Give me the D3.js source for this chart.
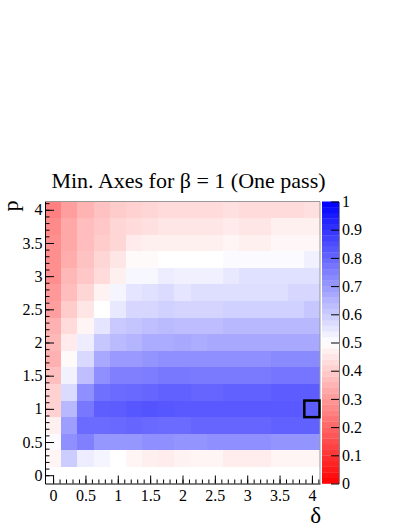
<!DOCTYPE html>
<html>
<head>
<meta charset="utf-8">
<script src="https://cdn.jsdelivr.net/npm/d3@7"></script>
<style>
  html, body { margin: 0; padding: 0; background: #fff; }
</style>
</head>
<body>
<svg id="chart" width="407" height="527"></svg>
<script>
// ---- Data ----
const deltaValues = [0, 0.25, 0.5, 0.75, 1, 1.25, 1.5, 1.75, 2, 2.25, 2.5, 2.75, 3, 3.25, 3.5, 3.75, 4];
const pValues = [4, 3.75, 3.5, 3.25, 3, 2.75, 2.5, 2.25, 2, 1.75, 1.5, 1.25, 1, 0.75, 0.5, 0.25];
// rows follow pValues (top to bottom), columns follow deltaValues
const row400 = [0.25,0.31,0.35,0.38,0.40,0.41,0.42,0.43,0.43,0.43,0.43,0.44,0.43,0.43,0.43,0.43,0.44];
const row375 = [0.27,0.33,0.37,0.39,0.42,0.43,0.44,0.45,0.45,0.45,0.45,0.46,0.45,0.45,0.47,0.47,0.47];
const row350 = [0.28,0.33,0.37,0.40,0.42,0.46,0.47,0.47,0.47,0.47,0.47,0.48,0.47,0.47,0.485,0.485,0.485];
const row325 = [0.28,0.34,0.38,0.42,0.45,0.49,0.49,0.50,0.50,0.50,0.50,0.51,0.51,0.51,0.51,0.51,0.53];
const row300 = [0.28,0.36,0.39,0.43,0.47,0.515,0.515,0.535,0.53,0.53,0.53,0.545,0.56,0.56,0.56,0.56,0.56];
const row275 = [0.30,0.37,0.42,0.475,0.52,0.55,0.56,0.57,0.55,0.565,0.565,0.565,0.565,0.565,0.565,0.58,0.58];
const row250 = [0.31,0.40,0.45,0.50,0.545,0.58,0.58,0.59,0.585,0.585,0.585,0.59,0.59,0.59,0.59,0.59,0.61];
const row225 = [0.345,0.43,0.48,0.55,0.605,0.615,0.625,0.635,0.63,0.63,0.63,0.64,0.64,0.64,0.64,0.64,0.64];
const row200 = [0.36,0.46,0.535,0.61,0.635,0.645,0.665,0.665,0.67,0.66,0.67,0.67,0.67,0.67,0.67,0.67,0.67];
const row175 = [0.345,0.49,0.575,0.67,0.70,0.70,0.71,0.72,0.72,0.72,0.72,0.72,0.72,0.72,0.73,0.73,0.73];
const row150 = [0.375,0.525,0.625,0.72,0.75,0.75,0.755,0.765,0.765,0.76,0.76,0.76,0.76,0.76,0.77,0.77,0.77];
const row125 = [0.41,0.57,0.72,0.78,0.79,0.795,0.80,0.81,0.81,0.80,0.80,0.81,0.81,0.81,0.82,0.82,0.82];
const row100 = [0.41,0.64,0.765,0.815,0.82,0.83,0.835,0.83,0.825,0.825,0.825,0.825,0.825,0.825,0.825,0.825,0.82];
const row075 = [0.47,0.69,0.79,0.79,0.795,0.80,0.795,0.79,0.79,0.80,0.80,0.80,0.80,0.80,0.81,0.81,0.81];
const row050 = [0.51,0.72,0.75,0.705,0.705,0.705,0.72,0.72,0.71,0.71,0.72,0.72,0.72,0.72,0.71,0.71,0.71];
const row025 = [0.48,0.60,0.535,0.52,0.50,0.48,0.47,0.465,0.475,0.48,0.48,0.465,0.465,0.465,0.48,0.48,0.48];
const minAxes = [row400,row375,row350,row325,row300,row275,row250,row225,row200,row175,row150,row125,row100,row075,row050,row025];
const highlight = { delta: 4, p: 1 };
const xTickLabels = [0, 0.5, 1, 1.5, 2, 2.5, 3, 3.5, 4];
const yTickLabels = [0, 0.5, 1, 1.5, 2, 2.5, 3, 3.5, 4];
const zTickLabels = [0, 0.1, 0.2, 0.3, 0.4, 0.5, 0.6, 0.7, 0.8, 0.9, 1];
const titleText = "Min. Axes for \u03B2 = 1 (One pass)";
const xTitle = "\u03B4";
const yTitle = "p";

// ---- Layout ----
const FONT = "'Liberation Serif', 'Times New Roman', Times, serif";
const svg = d3.select("#chart");
const plotL = 45, plotR = 320, plotT = 201.5, plotB = 483.5;
const binW = 0.25;
const x = d3.scaleLinear().domain([-0.125, 4.125]).range([plotL, plotR]);
const y = d3.scaleLinear().domain([-0.125, 4.125]).range([plotB, plotT]);
const color = d3.scaleLinear().domain([0, 0.5, 1]).range(["#ff0000", "#ffffff", "#0000ff"]);

svg.append("rect").attr("width", 407).attr("height", 527).attr("fill", "#fff");

// cells
const cells = [];
pValues.forEach((p, i) => deltaValues.forEach((d, j) => cells.push({ d, p, v: minAxes[i][j] })));
svg.append("g").selectAll("rect").data(cells).join("rect")
  .attr("x", c => x(c.d - binW / 2))
  .attr("y", c => y(c.p + binW / 2))
  .attr("width", c => x(c.d + binW / 2) - x(c.d - binW / 2))
  .attr("height", c => y(c.p - binW / 2) - y(c.p + binW / 2))
  .attr("fill", c => color(c.v))
  .attr("shape-rendering", "crispEdges");

// frame top/right
svg.append("line").attr("x1", plotL).attr("x2", plotR).attr("y1", plotT).attr("y2", plotT)
  .attr("stroke", "#999").attr("stroke-width", 1);
svg.append("line").attr("x1", plotR).attr("x2", plotR).attr("y1", plotT).attr("y2", plotB)
  .attr("stroke", "#999").attr("stroke-width", 1);

// highlight box
svg.append("rect")
  .attr("x", x(highlight.delta - binW / 2) + 0.5)
  .attr("y", y(highlight.p + binW / 2))
  .attr("width", x(highlight.delta + binW / 2) - x(highlight.delta - binW / 2) - 1)
  .attr("height", y(highlight.p - binW / 2) - y(highlight.p + binW / 2))
  .attr("fill", "none").attr("stroke", "#000").attr("stroke-width", 2.5);

// axes
const minorTicks = d3.range(0, 42).map(k => k / 10).filter(v => v <= 4.125);
const fmt = d => d3.format("~g")(d);
svg.append("g").attr("transform", `translate(0,${plotB})`)
  .call(d3.axisBottom(x).tickValues(minorTicks).tickSize(-4).tickFormat(""))
  .call(g => g.select(".domain").remove());
svg.append("g").attr("transform", `translate(0,${plotB})`)
  .call(d3.axisBottom(x).tickValues(xTickLabels).tickSize(-8).tickPadding(6).tickSizeOuter(0).tickFormat(fmt))
  .call(g => g.selectAll("text").attr("font-size", 16));
svg.append("g").attr("transform", `translate(${plotL},0)`)
  .call(d3.axisLeft(y).tickValues(minorTicks).tickSize(-4.5).tickFormat(""))
  .call(g => g.select(".domain").remove());
svg.append("g").attr("transform", `translate(${plotL},0)`)
  .call(d3.axisLeft(y).tickValues(yTickLabels).tickSize(-9).tickPadding(2.5).tickSizeOuter(0).tickFormat(fmt))
  .call(g => g.selectAll("text").attr("font-size", 16));

// color bar
const cbL = 322, cbR = 339;
const z = d3.scaleLinear().domain([0, 1]).range([plotB, plotT]);
const nBands = 50;
const bands = d3.range(nBands).map(k => k / nBands);
svg.append("g").selectAll("rect").data(bands).join("rect")
  .attr("x", cbL).attr("width", cbR - cbL)
  .attr("y", b => z(b + 1 / nBands)).attr("height", b => z(b) - z(b + 1 / nBands) + 0.3)
  .attr("fill", b => color(b + 0.5 / nBands));
svg.append("g").attr("transform", `translate(${cbR},0)`)
  .call(d3.axisRight(z).tickValues(zTickLabels).tickSize(-8).tickPadding(3).tickSizeOuter(0).tickFormat(fmt))
  .call(g => g.select(".domain").attr("stroke", "#888"))
  .call(g => g.selectAll("text").attr("font-size", 16));

// titles
svg.append("text").attr("x", 188.5).attr("y", 188).attr("text-anchor", "middle")
  .attr("font-size", 22).text(titleText);
svg.append("text").attr("x", 321).attr("y", 523).attr("text-anchor", "end")
  .attr("font-size", 23).text(xTitle);
svg.append("text").attr("transform", `translate(18,${plotT - 1}) rotate(-90)`).attr("text-anchor", "end")
  .attr("font-size", 22).text(yTitle);

svg.selectAll("text").style("font-family", FONT).attr("fill", "#000");
svg.selectAll("g").attr("font-family", null);
</script>
</body>
</html>
